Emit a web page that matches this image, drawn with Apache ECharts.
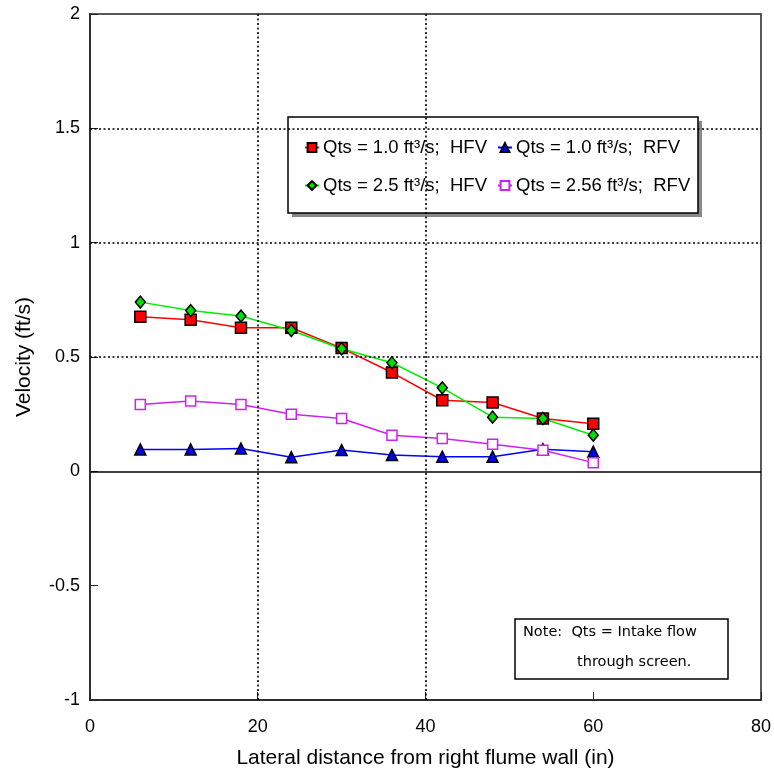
<!DOCTYPE html>
<html>
<head>
<meta charset="utf-8">
<script src="https://cdn.jsdelivr.net/npm/echarts@6/dist/echarts.min.js"></script>
<style>html,body{margin:0;padding:0;background:#fff}#c{width:774px;height:774px}</style>
</head>
<body>
<div id="c"></div>
<script>
const xs = [6, 12, 18, 24, 30, 36, 42, 48, 54, 60];
const hfv10 = [0.676, 0.663, 0.628, 0.628, 0.539, 0.432, 0.311, 0.301, 0.231, 0.208];
const rfv10 = [0.096, 0.096, 0.100, 0.062, 0.093, 0.071, 0.064, 0.064, 0.097, 0.086];
const hfv25 = [0.740, 0.703, 0.679, 0.616, 0.536, 0.475, 0.365, 0.237, 0.231, 0.158];
const rfv256 = [0.292, 0.308, 0.292, 0.250, 0.231, 0.158, 0.144, 0.118, 0.092, 0.038];
const names = ['Qts = 1.0 ft³/s;  HFV', 'Qts = 1.0 ft³/s;  RFV', 'Qts = 2.5 ft³/s;  HFV', 'Qts = 2.56 ft³/s;  RFV'];
const yGridVals = [0.5, 1, 1.5];
const xGridVals = [20, 40];
const noteLines = ['Note:  Qts = Intake flow', 'through screen.'];

const FONT = 'Liberation Sans, Arial, sans-serif';
function pts(ys) { return xs.map((x, i) => [x, ys[i]]); }

const chart = echarts.init(document.getElementById('c'), null, {renderer: 'canvas'});
const dotted = {color: '#000', width: 1.6, type: [2, 2.5]};
const series = [
  {name: names[0], type: 'line', data: pts(hfv10), symbol: 'rect', symbolSize: 11,
   lineStyle: {color: '#ff0000', width: 1.5}, itemStyle: {color: '#ff0000', borderColor: '#000', borderWidth: 1.5},
   markLine: {silent: true, symbol: 'none', label: {show: false}, animation: false,
     data: yGridVals.map(v => ({yAxis: v, lineStyle: dotted})).concat(xGridVals.map(v => ({xAxis: v, lineStyle: dotted})))
       .concat([{yAxis: 0, lineStyle: {color: '#000', width: 1.5, type: 'solid'}}])}},
  {name: names[1], type: 'line', data: pts(rfv10), symbol: 'triangle', symbolSize: 11,
   lineStyle: {color: '#0000ff', width: 1.5}, itemStyle: {color: '#0000ff', borderColor: '#000', borderWidth: 1.5}},
  {name: names[2], type: 'line', data: pts(hfv25), symbol: 'diamond', symbolSize: [10, 12],
   lineStyle: {color: '#00ee00', width: 1.5}, itemStyle: {color: '#00dd00', borderColor: '#000', borderWidth: 1.5}},
  {name: names[3], type: 'line', data: pts(rfv256), symbol: 'rect', symbolSize: 10,
   lineStyle: {color: '#cc22ee', width: 1.5}, itemStyle: {color: '#ffffff', borderColor: '#cc22ee', borderWidth: 1.5}}
];

function leg(name, left, top) {
  return {data: [name], left: left, top: top, itemWidth: 14, itemHeight: 11, itemGap: 0, z: 10,
    selectedMode: false, padding: 0,
    textStyle: {fontFamily: FONT, fontSize: 18.5, color: '#000', padding: [0, 0, 0, -1]}};
}

chart.setOption({
  animation: false,
  backgroundColor: '#fff',
  grid: {left: 90, top: 14, right: 11, bottom: 73, show: true, borderColor: '#222', borderWidth: 1.5, backgroundColor: 'transparent'},
  xAxis: {type: 'value', min: 0, max: 80, interval: 20,
    name: 'Lateral distance from right flume wall (in)', nameLocation: 'middle', nameGap: 48,
    nameTextStyle: {fontFamily: FONT, fontSize: 21, color: '#000'},
    axisLine: {show: true, onZero: false, lineStyle: {color: '#222', width: 1.5}},
    axisTick: {show: true, inside: true, length: 8, lineStyle: {color: '#222', width: 1}},
    axisLabel: {fontFamily: FONT, fontSize: 18, color: '#000', margin: 18},
    splitLine: {show: false}},
  yAxis: {type: 'value', min: -1, max: 2, interval: 0.5,
    name: 'Velocity (ft/s)', nameLocation: 'middle', nameGap: 55,
    nameTextStyle: {fontFamily: FONT, fontSize: 21, color: '#000'},
    axisLine: {show: true, onZero: false, lineStyle: {color: '#222', width: 1.5}},
    axisTick: {show: true, inside: true, length: 8, lineStyle: {color: '#222', width: 1}},
    axisLabel: {fontFamily: FONT, fontSize: 18, color: '#000', margin: 10},
    splitLine: {show: false}},
  legend: [leg(names[0], 304, 138), leg(names[1], 497, 138), leg(names[2], 304, 176), leg(names[3], 497, 176)],
  graphic: [
    {type: 'rect', z: 5, shape: {x: 292, y: 121, width: 410, height: 96},
     style: {fill: '#888', stroke: null}},
    {type: 'rect', z: 5, shape: {x: 288, y: 117, width: 410, height: 96},
     style: {fill: '#fff', stroke: '#000', lineWidth: 1.5}},
    {type: 'rect', z: 5, shape: {x: 515, y: 619, width: 213, height: 60},
     style: {fill: '#fff', stroke: '#000', lineWidth: 1.5}},
    {type: 'text', z: 6, left: 523, top: 625, style: {text: noteLines[0], font: '14.5px "DejaVu Sans"', fill: '#000'}},
    {type: 'text', z: 6, left: 577, top: 655, style: {text: noteLines[1], font: '14.5px "DejaVu Sans"', fill: '#000'}}
  ],
  series: series
});
</script>
</body>
</html>
